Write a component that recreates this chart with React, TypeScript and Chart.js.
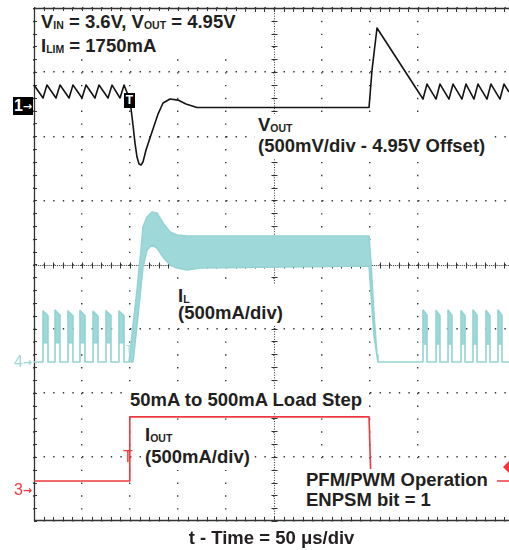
import React, { useEffect, useRef } from 'react';
import { Chart, registerables } from 'chart.js';

Chart.register(...registerables);

// ---------------- data ----------------
// time in µs from the left edge of the screen, 50 µs/div
const TIME_PER_DIV = 50;
const X_MAX = 494.8; // visible part of the 10-division screen

// CH1: V_OUT, mV relative to the 4.95 V offset (500 mV/div)
const voutTime = [
  0, 9.4, 13.5, 22.9, 27.1, 36.5, 40.6, 50, 54.2, 63.5, 67.7, 77.1, 81.3, 89.6, 93.8,
  97.9, 101, 103.1, 105.2, 107.3, 109.4, 111.5, 113.5, 116.7, 120.8, 125, 129.2, 134.4,
  141.7, 150, 158.3, 169.8, 349, 352.1, 357.3, 405.2, 409.4, 418.8, 422.9, 432.3, 436.5,
  445.8, 450, 458.3, 462.5, 471.9, 476, 485.4, 489.6, 494.8,
];
const voutMv = [
  175, 74, 175, 74, 175, 74, 175, 74, 175, 74, 175, 74, 175, 74, 175,
  97, -4, -136, -277, -386, -440, -448, -425, -331, -238, -144, -51, 35,
  66, 58, 27, 0, 0, 292, 620, 66, 183, 66, 183, 66, 183,
  66, 183, 66, 183, 66, 183, 66, 183, 121,
];

// CH4: inductor current I_L, mA (500 mA/div)
// PFM bursts before the load step
const pfmPreStart = [9.4, 21.9, 35.4, 47.9, 61.5, 75, 88.5];
const pfmPreEnd = [14.6, 27.1, 40.6, 53.1, 66.7, 80.2, 93.8];
const pfmPrePeak = [398, 405, 398, 402, 395, 400, 398];
const pfmPreTail = [360, 365, 360, 362, 358, 362, 360];
const pfmPreFloor = [150, 150, 150, 150, 150, 150, 150];
// PWM band (upper / lower envelope of the ripple)
const ilBandTime = [99, 103.1, 107.3, 111.5, 113.5, 117.7, 122.9, 128.1, 134.4, 141.7, 149, 159.4, 172.9, 349, 351, 354.2, 357.3, 358.3];
const ilBandHigh = [0, 281, 561, 873, 1053, 1131, 1170, 1162, 1084, 1014, 990, 982, 982, 982, 780, 366, 55, 0];
const ilBandLow = [0, 0, 288, 593, 741, 873, 912, 889, 819, 756, 733, 717, 733, 749, 538, 203, 0, 0];
// PFM bursts after the load release
const pfmPostStart = [405.2, 418.8, 431.3, 444.8, 457.3, 470.8, 483.3];
const pfmPostEnd = [409.4, 422.9, 435.4, 449, 461.5, 475, 487.5];
const pfmPostPeak = [405, 402, 405, 400, 405, 402, 405];
const pfmPostTail = [365, 360, 365, 360, 365, 360, 365];
const pfmPostFloor = [140, 140, 140, 140, 140, 140, 140];

// CH3: I_OUT, mA (500 mA/div)
const ioutTime = [0, 99.5, 99.8, 349, 351, 494.8];
const ioutMa = [50, 50, 550, 550, 50, 50];
const CH3_TRIG_LEVEL = 159;

// channel ground positions (divisions from the bottom of the 8-div screen)
const CH1_ZERO_DIV = 6.448;
const CH4_ZERO_DIV = 2.4795;
const CH3_ZERO_DIV = 0.524;
const PER_DIV = 500;

// ---------------- styling ----------------
const FONT = "'Liberation Sans', Arial, Helvetica, sans-serif";
const ARROW_FONT = "'DejaVu Sans', sans-serif";
const INK = '#231f20';
const TEAL = '#9ed8d8';
const TEAL_EDGE = '#94d3d3';
const RED = '#ec3a3f';
const TRACE = '#141414';
const GRID = '#333333';

function pts(xs: number[], ys: number[]) {
  return xs.map((x, i) => ({ x, y: ys[i] }));
}

function buildInductorShape() {
  const hi: { x: number; y: number }[] = [{ x: 0, y: 0 }];
  const lo: { x: number; y: number }[] = [{ x: 0, y: 0 }];
  const pulses = (s: number[], e: number[], pk: number[], tl: number[], fl: number[]) => {
    s.forEach((st, i) => {
      hi.push({ x: st, y: 0 }, { x: st, y: pk[i] }, { x: e[i], y: tl[i] }, { x: e[i], y: 0 });
      lo.push({ x: st, y: 0 }, { x: st, y: fl[i] }, { x: e[i], y: fl[i] }, { x: e[i], y: 0 });
    });
  };
  pulses(pfmPreStart, pfmPreEnd, pfmPrePeak, pfmPreTail, pfmPreFloor);
  ilBandTime.forEach((t, i) => {
    hi.push({ x: t, y: ilBandHigh[i] });
    lo.push({ x: t, y: ilBandLow[i] });
  });
  pulses(pfmPostStart, pfmPostEnd, pfmPostPeak, pfmPostTail, pfmPostFloor);
  hi.push({ x: X_MAX, y: 0 });
  lo.push({ x: X_MAX, y: 0 });
  return [...hi, ...lo.reverse()];
}

function chanAxis(zeroDiv: number) {
  return {
    type: 'linear' as const,
    display: false,
    min: -zeroDiv * PER_DIV,
    max: (8 - zeroDiv) * PER_DIV,
  };
}

const scopeFrame = {
  id: 'scopeFrame',
  beforeDatasetsDraw(chart: any) {
    const { ctx, chartArea: a, scales } = chart;
    const xs = scales.x;
    const ys = scales.y;
    const divX = xs.getPixelForValue(TIME_PER_DIV) - xs.getPixelForValue(0);
    const divY = ys.getPixelForValue(0) - ys.getPixelForValue(1);
    const cx = Math.round(xs.getPixelForValue(5 * TIME_PER_DIV)) + 0.5;
    const cy = Math.round(ys.getPixelForValue(4)) + 0.5;
    ctx.save();
    ctx.strokeStyle = GRID;
    ctx.lineWidth = 1.3;
    ctx.beginPath();
    ctx.moveTo(a.left + 0.5, a.top);
    ctx.lineTo(a.left + 0.5, a.bottom);
    ctx.moveTo(a.left, a.top + 0.5);
    ctx.lineTo(a.right, a.top + 0.5);
    ctx.moveTo(a.left, a.bottom - 0.5);
    ctx.lineTo(a.right, a.bottom - 0.5);
    ctx.stroke();
    ctx.lineWidth = 1;
    ctx.beginPath();
    for (let x = a.left; x <= a.right + 0.1; x += divX / 5) {
      const px = Math.round(x) + 0.5;
      ctx.moveTo(px, a.top);
      ctx.lineTo(px, a.top + 4);
      ctx.moveTo(px, a.bottom);
      ctx.lineTo(px, a.bottom - 4);
      ctx.moveTo(px, cy - 3);
      ctx.lineTo(px, cy + 3);
    }
    for (let y = a.top; y <= a.bottom + 0.1; y += divY / 5) {
      const py = Math.round(y) + 0.5;
      ctx.moveTo(a.left, py);
      ctx.lineTo(a.left + 3, py);
      ctx.moveTo(cx - 3, py);
      ctx.lineTo(cx + 3, py);
    }
    ctx.stroke();
    ctx.setLineDash([1, divY / 25 - 1]);
    ctx.beginPath();
    ctx.moveTo(cx, a.top);
    ctx.lineTo(cx, a.bottom);
    ctx.stroke();
    ctx.setLineDash([1, divX / 25 - 1]);
    ctx.beginPath();
    ctx.moveTo(a.left, cy);
    ctx.lineTo(a.right, cy);
    ctx.stroke();
    ctx.restore();
  },
  afterDatasetsDraw(chart: any) {
    const { ctx, chartArea: a, scales } = chart;
    const y = scales.yO.getPixelForValue(CH3_TRIG_LEVEL);
    const x = a.right - 6;
    ctx.save();
    ctx.fillStyle = RED;
    ctx.beginPath();
    ctx.moveTo(x, y);
    ctx.lineTo(x + 7, y - 7);
    ctx.lineTo(x + 14, y);
    ctx.lineTo(x + 7, y + 7);
    ctx.closePath();
    ctx.fill();
    ctx.restore();
  },
};

function Sub({ children }: { children: any }) {
  return <span style={{ fontSize: 10.5, lineHeight: 0, verticalAlign: '-1px' }}>{children}</span>;
}

const SIZE = 18.5;
function Block({ x, base, pitch = 0, lines, padR = 3 }: { x: number; base: number; pitch?: number; lines: any[]; padR?: number }) {
  const asc = SIZE * 0.8465;
  return (
    <div
      style={{
        position: 'absolute',
        left: x - 3,
        top: base - asc - 2,
        padding: `2px ${padR}px 3px 3px`,
        background: '#fff',
        color: INK,
        font: `bold ${SIZE}px ${FONT}`,
        lineHeight: `${SIZE}px`,
        whiteSpace: 'nowrap',
      }}
    >
      {lines.map((l, i) => (
        <div key={i} style={{ height: i < lines.length - 1 ? pitch : SIZE }}>
          {l}
        </div>
      ))}
    </div>
  );
}

function ChannelMark({ x, y, color, label, box = false }: { x: number; y: number; color: string; label: string; box?: boolean }) {
  return (
    <div
      style={{
        position: 'absolute',
        left: x,
        top: y,
        width: 20,
        height: 18,
        lineHeight: '18px',
        textAlign: 'center',
        color: box ? '#fff' : color,
        background: box ? '#000' : 'transparent',
        whiteSpace: 'nowrap',
      }}
    >
      <span style={{ font: `${box ? 'bold ' : ''}16px ${FONT}` }}>{label}</span>
      <span style={{ font: `bold 11px ${ARROW_FONT}`, verticalAlign: '1px' }}>{'\u2192'}</span>
    </div>
  );
}

export default function App() {
  const ref = useRef<HTMLCanvasElement>(null);

  useEffect(() => {
    const chart = new Chart(ref.current as HTMLCanvasElement, {
      type: 'line',
      data: {
        datasets: [
          {
            label: 'VOUT',
            data: pts(voutTime, voutMv),
            yAxisID: 'yV',
            borderColor: TRACE,
            borderWidth: 1.6,
            pointRadius: 0,
            fill: false,
          },
          {
            label: 'IOUT',
            data: pts(ioutTime, ioutMa),
            yAxisID: 'yO',
            borderColor: RED,
            borderWidth: 1.6,
            pointRadius: 0,
            fill: false,
          },
          {
            label: 'IL',
            data: buildInductorShape(),
            yAxisID: 'yL',
            borderColor: TEAL_EDGE,
            backgroundColor: TEAL,
            borderWidth: 1.6,
            pointRadius: 0,
            fill: 'shape',
          },
        ],
      },
      options: {
        animation: false,
        responsive: false,
        maintainAspectRatio: false,
        events: [],
        layout: { padding: { left: 34, top: 8, right: 0, bottom: 0 } },
        elements: { line: { tension: 0, borderJoinStyle: 'round' } },
        plugins: { legend: { display: false }, tooltip: { enabled: false } },
        scales: {
          x: {
            type: 'linear',
            min: 0,
            max: X_MAX,
            ticks: { display: false, stepSize: TIME_PER_DIV },
            afterBuildTicks: (s: any) => {
              s.ticks = s.ticks.filter((t: any) => t.value % TIME_PER_DIV === 0);
            },
            grid: { color: GRID, lineWidth: 1.4, drawTicks: false },
            border: { display: false, dash: [1.4, 64.125 / 5 - 1.4] },
            title: {
              display: true,
              text: 't - Time = 50 \u03bcs/div',
              color: INK,
              font: { family: FONT, size: SIZE, weight: 'bold' },
              padding: { top: 6.8, bottom: 0 },
            },
          },
          y: {
            type: 'linear',
            min: 0,
            max: 8,
            ticks: { display: false, stepSize: 1 },
            grid: { color: GRID, lineWidth: 1.4, drawTicks: false },
            border: { display: false, dash: [1.4, 9.6 - 1.4] },
          },
          yV: chanAxis(CH1_ZERO_DIV),
          yL: chanAxis(CH4_ZERO_DIV),
          yO: chanAxis(CH3_ZERO_DIV),
        },
      } as any,
      plugins: [scopeFrame],
    });
    return () => chart.destroy();
  }, []);

  return (
    <div style={{ position: 'absolute', left: 0, top: 0, width: 509, height: 550, overflow: 'hidden', background: '#fff' }}>
      <canvas ref={ref} width={509} height={550} style={{ position: 'absolute', left: 0, top: 0, width: 509, height: 550 }} />
      <Block
        x={41}
        base={29}
        pitch={24}
        lines={[
          <>V<Sub>IN</Sub> = 3.6V, V<Sub>OUT</Sub> = 4.95V</>,
          <>I<Sub>LIM</Sub> = 1750mA</>,
        ]}
      />
      <Block x={258} base={132} pitch={21} lines={[<>V<Sub>OUT</Sub></>, '(500mV/div - 4.95V Offset)']} />
      <Block x={178} base={303} pitch={17} lines={[<>I<Sub>L</Sub></>, '(500mA/div)']} />
      <Block x={130} base={407} lines={['50mA to 500mA Load Step']} />
      <Block x={145} base={442} pitch={22} lines={[<>I<Sub>OUT</Sub></>, '(500mA/div)']} />
      <Block x={306} base={487} pitch={20} padR={9} lines={['PFM/PWM Operation', 'ENPSM bit = 1']} />
      <ChannelMark x={13} y={97} color="#000" label="1" box />
      <ChannelMark x={13} y={353} color={TEAL} label="4" />
      <ChannelMark x={13} y={481} color={RED} label="3" />
      <div
        style={{
          position: 'absolute',
          left: 124,
          top: 93,
          width: 11,
          height: 15,
          background: '#000',
          color: '#fff',
          font: `bold 12px ${FONT}`,
          lineHeight: '15px',
          textAlign: 'center',
        }}
      >
        T
      </div>
      <div style={{ position: 'absolute', left: 123, top: 448, color: RED, font: `16px ${FONT}`, lineHeight: '18px' }}>T</div>
      <div style={{ position: 'absolute', left: 126, top: 344, color: TEAL, font: `10px ${FONT}`, lineHeight: '12px' }}>T</div>
    </div>
  );
}
